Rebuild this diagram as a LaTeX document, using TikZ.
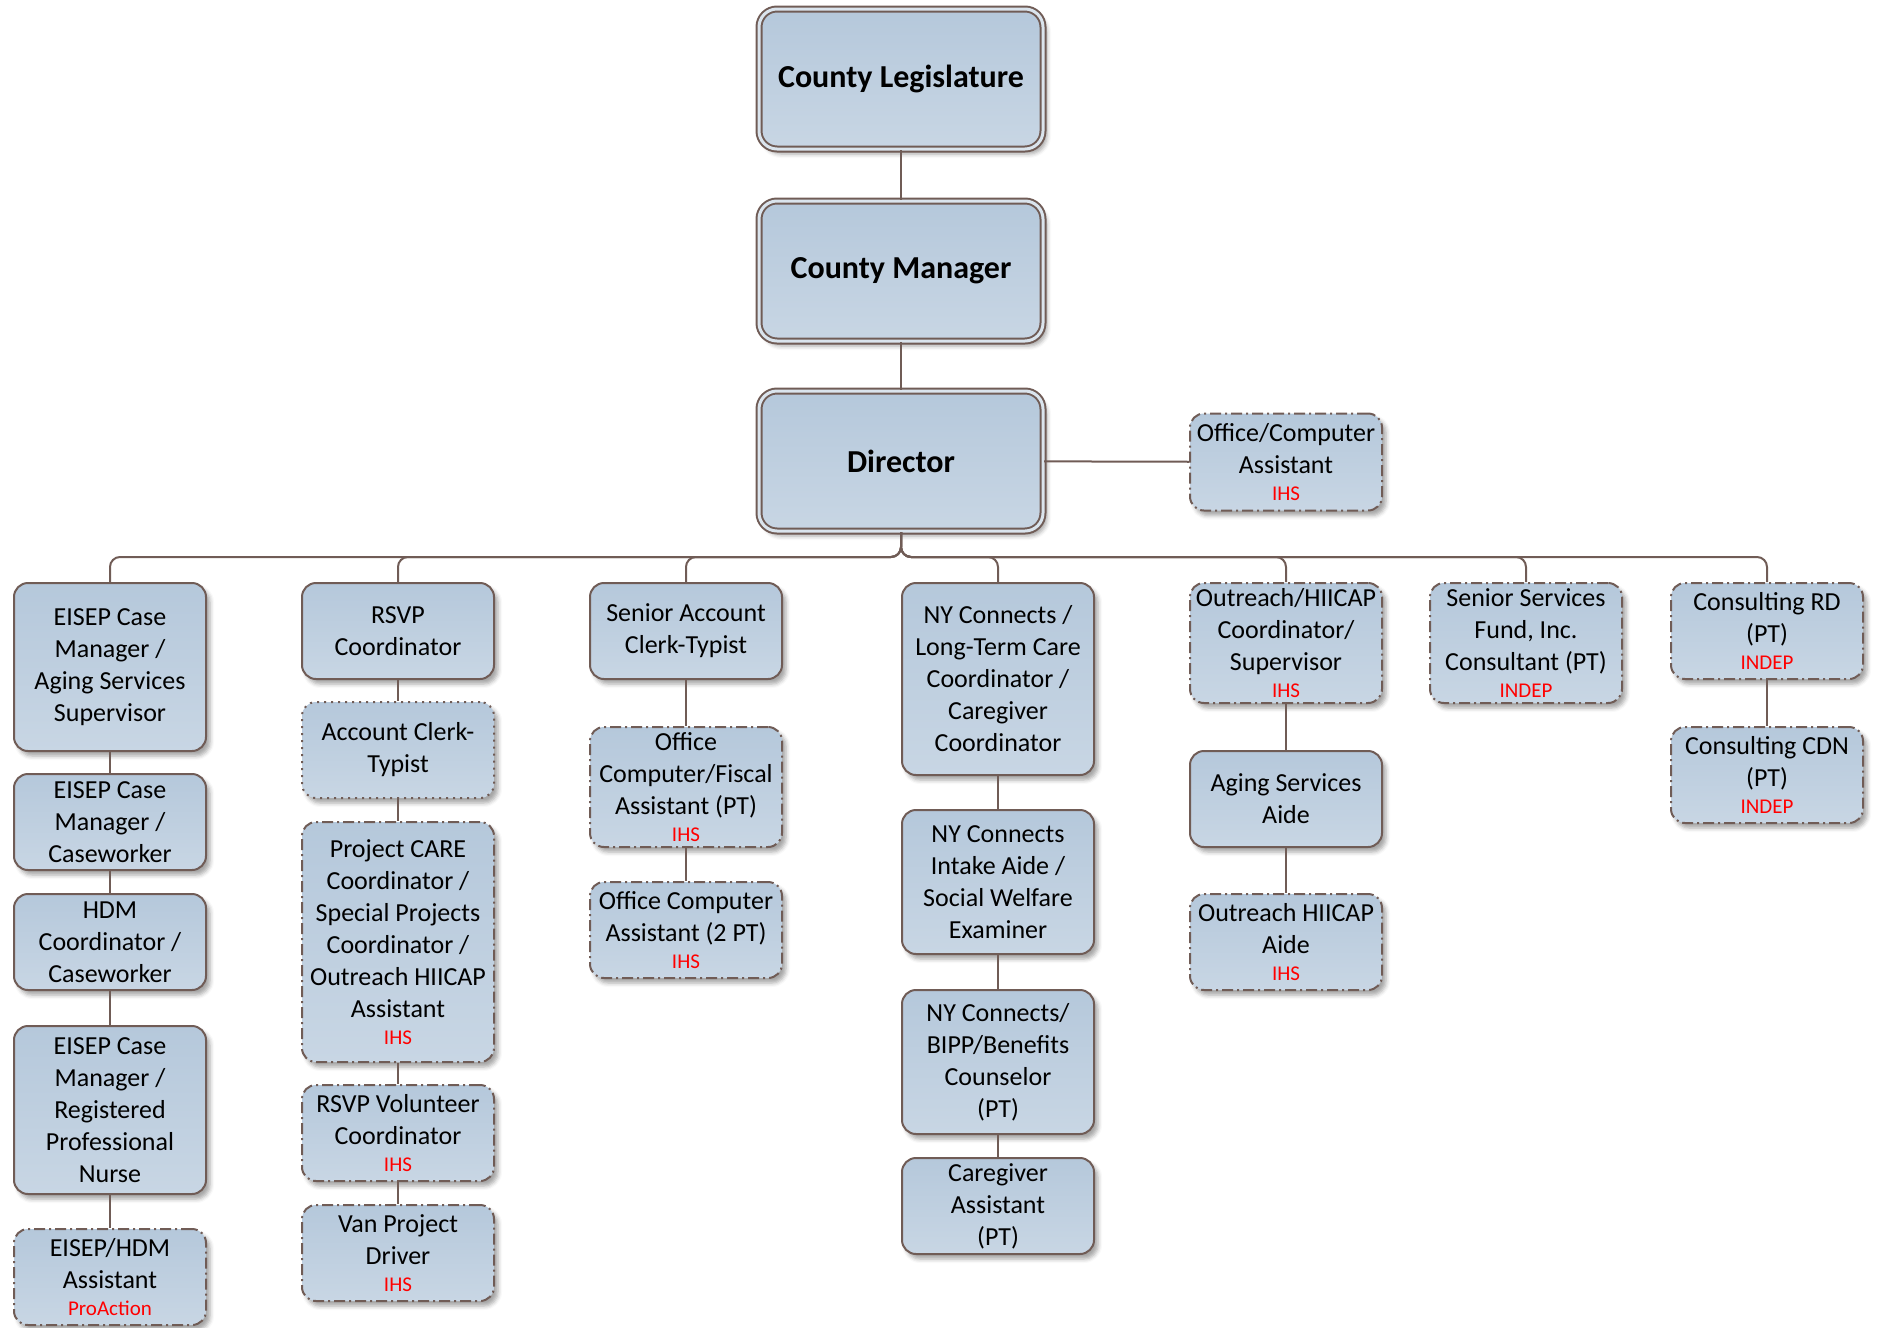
\documentclass[tikz,border=0pt]{standalone}
\usepackage{fontspec}
\setmainfont{Carlito}
\usepackage{xcolor}
\usepackage{tikz}
\usetikzlibrary{shadows.blur}

\definecolor{edgec}{RGB}{112,92,86}
\definecolor{boxtop}{RGB}{181,200,219}
\definecolor{boxbot}{RGB}{200,214,228}
\newcommand{\org}[1]{\\[-5pt]{\fontsize{21}{25}\selectfont\color{red}#1}}

\tikzset{
  jobbox/.style={rectangle, rounded corners=14pt, draw=edgec, line width=2pt,
    top color=boxtop, bottom color=boxbot, minimum width=192pt, inner sep=0pt,
    align=center, font=\fontsize{26}{32}\selectfont,
    blur shadow={shadow xshift=4pt, shadow yshift=-5pt, shadow blur radius=4pt, shadow opacity=35}},
  ctbox/.style={jobbox, dash pattern=on 11pt off 4pt on 2pt off 4pt},
  dotbox/.style={jobbox, dash pattern=on 2pt off 5pt},
  headbox/.style={jobbox, rounded corners=18pt, double=boxtop!50!white, double distance=3pt,
    minimum width=284pt, minimum height=140pt, font=\fontsize{32}{38}\selectfont\bfseries},
  wire/.style={draw=edgec, line width=2pt},
}

\begin{document}
\begin{tikzpicture}[x=1pt, y=-1pt]
    \useasboundingbox (0,0) rectangle (1877,1328);

    \node[headbox] (Leg) at (901,79)  {County Legislature};
    \node[headbox] (Mgr) at (901,271) {County Manager};
    \node[headbox] (Dir) at (901,461) {Director};
    \node[ctbox, minimum height=97pt] (Off) at (1286,462) {Office/Computer\\Assistant\org{IHS}};

    \node[jobbox, minimum height=168pt] (A1) at (110,667)  {EISEP Case\\Manager /\\Aging Services\\Supervisor};
    \node[jobbox, minimum height=96pt]  (A2) at (110,822)  {EISEP Case\\Manager /\\Caseworker};
    \node[jobbox, minimum height=96pt]  (A3) at (110,942)  {HDM\\Coordinator /\\Caseworker};
    \node[jobbox, minimum height=168pt] (A4) at (110,1110) {EISEP Case\\Manager /\\Registered\\Professional\\Nurse};
    \node[ctbox, minimum height=96pt]   (A5) at (110,1277) {EISEP/HDM\\Assistant\org{ProAction}};

    \node[jobbox, minimum height=96pt]  (B1) at (398,631)  {RSVP\\Coordinator};
    \node[dotbox, minimum height=96pt]  (B2) at (398,750)  {Account Clerk-\\Typist};
    \node[ctbox, minimum height=240pt]  (B3) at (398,942)  {Project CARE\\Coordinator /\\Special Projects\\Coordinator /\\Outreach HIICAP\\Assistant\org{IHS}};
    \node[ctbox, minimum height=96pt]   (B4) at (398,1133) {RSVP Volunteer\\Coordinator\org{IHS}};
    \node[ctbox, minimum height=96pt]   (B5) at (398,1253) {Van Project\\Driver\org{IHS}};

    \node[jobbox, minimum height=96pt]  (C1) at (686,631)  {Senior Account\\Clerk-Typist};
    \node[ctbox, minimum height=120pt]  (C2) at (686,787)  {Office\\Computer/Fiscal\\Assistant (PT)\org{IHS}};
    \node[ctbox, minimum height=96pt]   (C3) at (686,930)  {Office Computer\\Assistant (2 PT)\org{IHS}};

    \node[jobbox, minimum height=192pt] (D1) at (998,679)  {NY Connects /\\Long-Term Care\\Coordinator /\\Caregiver\\Coordinator};
    \node[jobbox, minimum height=144pt] (D2) at (998,882)  {NY Connects\\Intake Aide /\\Social Welfare\\Examiner};
    \node[jobbox, minimum height=144pt] (D3) at (998,1062) {NY Connects/\\BIPP/Benefits\\Counselor\\(PT)};
    \node[jobbox, minimum height=96pt]  (D4) at (998,1206) {Caregiver\\Assistant\\(PT)};

    \node[ctbox, minimum height=120pt]  (E1) at (1286,643) {Outreach/HIICAP\\Coordinator/\\Supervisor\org{IHS}};
    \node[jobbox, minimum height=96pt]  (E2) at (1286,799) {Aging Services\\Aide};
    \node[ctbox, minimum height=96pt]   (E3) at (1286,942) {Outreach HIICAP\\Aide\org{IHS}};

    \node[ctbox, minimum height=120pt]  (F1) at (1526,643) {Senior Services\\Fund, Inc.\\Consultant (PT)\org{INDEP}};

    \node[ctbox, minimum height=96pt]   (G1) at (1767,631) {Consulting RD\\(PT)\org{INDEP}};
    \node[ctbox, minimum height=96pt]   (G2) at (1767,775) {Consulting CDN\\(PT)\org{INDEP}};

    \coordinate (bus) at (901,557);

    \draw[wire] (Leg) -- (Mgr);
    \draw[wire] (Mgr) -- (Dir);
    \draw[wire] (Dir) -- (Off);
    \draw[wire, rounded corners=10pt] (Dir) -- (bus) -| (A1);
    \draw[wire, rounded corners=10pt] (Dir) -- (bus) -| (B1);
    \draw[wire, rounded corners=10pt] (Dir) -- (bus) -| (C1);
    \draw[wire, rounded corners=10pt] (Dir) -- (bus) -| (D1);
    \draw[wire, rounded corners=10pt] (Dir) -- (bus) -| (E1);
    \draw[wire, rounded corners=10pt] (Dir) -- (bus) -| (F1);
    \draw[wire, rounded corners=10pt] (Dir) -- (bus) -| (G1);
    \draw[wire] (A1) -- (A2);
    \draw[wire] (A2) -- (A3);
    \draw[wire] (A3) -- (A4);
    \draw[wire] (A4) -- (A5);
    \draw[wire] (B1) -- (B2);
    \draw[wire] (B2) -- (B3);
    \draw[wire] (B3) -- (B4);
    \draw[wire] (B4) -- (B5);
    \draw[wire] (C1) -- (C2);
    \draw[wire] (C2) -- (C3);
    \draw[wire] (D1) -- (D2);
    \draw[wire] (D2) -- (D3);
    \draw[wire] (D3) -- (D4);
    \draw[wire] (E1) -- (E2);
    \draw[wire] (E2) -- (E3);
    \draw[wire] (G1) -- (G2);
  \end{tikzpicture}
\end{document}
